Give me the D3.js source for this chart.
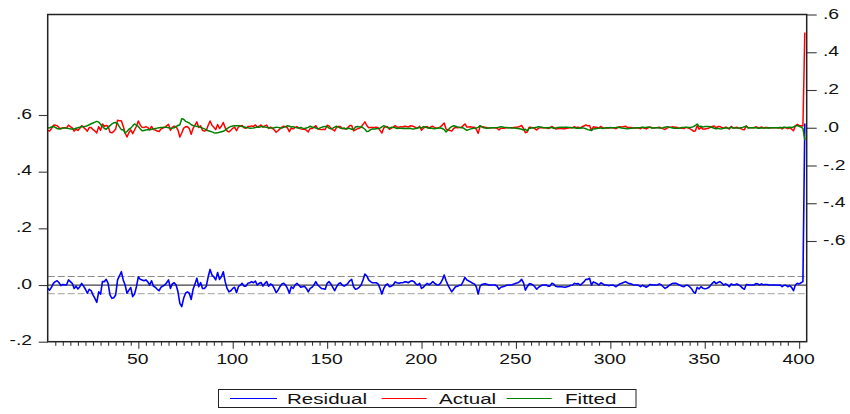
<!DOCTYPE html>
<html><head><meta charset="utf-8">
<script src="https://cdn.jsdelivr.net/npm/d3@7"></script>
<style>html,body{margin:0;padding:0;background:#fff;} svg{display:block;}</style>
</head><body><svg id="chart" width="850" height="414"></svg>
<script>
// ---- data (observations 2..403) ----
const firstObs = 2;
const residual = [
-.012,-.018,-.008,.006,.012,.015,.008,-.002,.002,.001,
.001,.018,.012,.006,-.012,-.004,-.014,-.006,.006,-.004,
-.015,-.029,-.015,-.020,-.035,-.047,-.061,-.024,-.032,.012,
.012,.020,.006,-.035,-.047,-.045,-.035,.018,.032,.047,
.018,0,-.029,-.018,-.009,-.041,-.032,-.006,.029,.020,
.018,.015,.018,.011,0,.015,-.004,-.008,-.015,-.020,
-.008,-.004,0,.008,.018,-.012,.004,.008,0,-.024,
-.065,-.076,-.047,-.029,-.024,-.029,-.051,-.015,.004,.024,
-.006,.009,-.012,-.012,-.004,.029,.055,.035,.029,.018,
.044,.020,.029,.047,.012,-.012,-.024,-.020,-.012,-.008,
-.027,-.006,0,.006,-.004,-.004,.006,.008,.012,.008,
.014,0,.006,.009,-.004,.006,.012,-.004,.004,0,
-.012,-.027,-.018,-.006,.004,.006,0,-.012,-.029,-.006,
-.012,0,.006,0,-.008,-.006,-.004,-.012,-.024,-.012,
-.008,0,.012,0,-.006,-.012,-.013,-.015,.006,.012,
.004,-.008,-.020,-.006,.004,.008,0,-.004,0,.006,
.015,.020,-.006,-.015,-.013,-.008,0,.018,.039,.032,
.018,.012,.008,.008,.008,.004,-.012,-.032,-.012,0,
.004,-.006,-.004,0,.011,.008,.006,.008,.008,.011,
.011,.008,.013,.015,.012,.004,0,.006,-.012,-.008,
0,.006,.001,.006,.012,.006,.001,0,.006,.018,
.035,.015,0,-.013,-.024,-.015,-.006,-.004,-.001,0,
.012,.027,.018,.014,.011,.006,.004,-.006,-.032,-.004,
.002,.004,.004,.002,0,0,0,0,-.004,-.015,
-.008,-.006,-.004,-.001,0,0,.001,.004,.006,.008,
.012,.020,.008,-.018,-.006,.004,.004,0,-.006,-.015,
-.008,-.004,0,0,0,-.004,-.004,.006,.004,-.004,
-.006,-.006,-.006,-.007,-.008,-.006,-.004,-.001,0,.006,
.004,.005,0,.005,.011,.020,.020,.024,0,.011,
.008,.005,0,.008,.004,0,0,-.002,-.001,0,
-.002,-.006,-.001,.004,.006,.009,.012,.008,.005,.004,
.001,0,0,-.001,-.006,-.001,-.004,-.008,-.004,.002,
.001,0,0,.001,.004,0,-.006,-.012,-.008,-.002,
.002,.006,.006,.006,.002,-.001,-.004,-.006,-.001,-.001,
-.006,-.013,-.024,-.029,-.008,-.014,-.006,-.011,-.013,-.012,
-.009,-.002,.006,.012,.005,.009,.012,.007,0,.004,
.001,-.006,.004,.001,.001,.004,0,-.004,-.011,-.015,
.002,.001,0,0,0,.005,.004,0,.004,.001,
.002,.002,0,0,0,0,0,-.001,0,-.006,
-.001,-.001,-.006,-.002,-.008,-.020,0,.006,.004,.008,
.012,.570
];
const fitted = [
-.002,0,.004,.007,.002,-.004,-.007,-.004,-.002,-.001,
-.002,-.004,-.006,-.007,-.006,-.003,0,.003,.005,.006,
.008,.011,.016,.021,.025,.030,.034,.030,.018,.008,
-.004,-.008,.002,.011,.020,.026,.028,.022,.005,-.010,
-.010,-.028,-.020,-.008,-.002,.010,.020,.014,.007,-.005,
-.016,-.014,-.012,-.010,-.011,-.008,-.006,-.004,-.002,0,
.001,.002,.002,.002,0,-.002,-.002,0,.006,.012,
.016,.048,.045,.034,.030,.025,.016,.012,.010,.007,
.007,.002,-.002,-.006,-.010,-.016,-.019,-.022,-.026,-.028,
-.027,-.024,-.021,-.019,-.012,-.005,.002,.007,.009,.011,
.011,.010,.009,.006,.004,.001,0,-.002,-.002,-.001,
.001,.004,.002,.006,.007,.004,.002,0,-.001,-.002,
0,.003,.002,0,-.001,.002,.006,.011,.008,.004,
.006,.002,0,-.002,.002,-.002,-.004,-.001,.002,.008,
.004,.002,-.001,-.006,-.002,.002,.005,.006,.007,-.002,
-.006,-.002,.003,.008,.003,-.002,-.004,-.001,-.007,-.004,
-.003,-.008,-.010,.004,.007,.005,.004,0,-.008,-.020,
-.018,-.010,-.007,-.006,-.005,-.004,-.002,.004,.011,.006,
.001,-.002,.002,.002,0,-.004,-.003,-.002,-.004,-.003,
-.004,-.004,-.003,-.006,-.006,-.004,-.001,.002,-.002,.006,
.004,0,-.003,-.001,-.004,-.006,-.003,-.001,-.001,-.004,
-.010,-.022,-.012,-.001,.006,.011,.008,.004,.002,.001,
-.001,-.007,-.014,-.010,-.006,-.004,-.002,-.001,.002,.011,
.004,0,-.002,-.002,-.001,0,0,0,.001,.003,
.006,.004,.002,.001,0,0,-.001,-.002,-.003,-.004,
-.005,-.008,-.012,-.008,-.017,-.002,-.002,0,.001,.003,
.006,.004,.001,0,0,0,.002,.001,-.003,-.002,
.001,.002,.002,.002,.003,.003,.002,.001,0,0,
-.003,-.002,-.002,0,-.002,-.005,-.010,-.012,-.014,-.006,
-.005,-.004,-.002,-.001,-.004,-.002,0,0,.001,0,
0,.001,.003,.001,-.002,-.003,-.004,-.006,-.004,-.003,
-.002,-.001,0,0,.001,.003,.001,.002,.004,.002,
-.001,-.001,0,0,-.001,-.002,0,.003,.006,.004,
.001,-.001,-.003,-.003,-.003,-.001,.001,.002,.003,.001,
.001,.003,.006,.012,.020,.006,.008,.004,.006,.007,
.006,.005,.001,-.003,-.006,-.003,-.005,-.006,-.003,0,
-.002,-.001,.003,-.002,-.001,-.001,-.002,0,.002,.005,
.008,-.001,0,0,0,0,-.002,-.002,0,-.002,
-.001,-.001,-.001,0,0,0,0,0,.001,0,
.003,.001,.001,.003,.001,.004,.010,.012,.008,.003,
-.003,-.065
];
// Actual = Fitted + Residual (definition of the residual series)
const actual = fitted.map((f, i) => +(f + residual[i]).toFixed(3));
const seBand = [-0.03, 0.03];

const xTickValues = [50, 100, 150, 200, 250, 300, 350, 400];
const xTickLabels = ["50", "100", "150", "200", "250", "300", "350", "400"];
const leftTickValues = [-0.2, 0, 0.2, 0.4, 0.6];
const leftTickLabels = ["-.2", ".0", ".2", ".4", ".6"];
const rightTickValues = [-0.6, -0.4, -0.2, 0, 0.2, 0.4, 0.6];
const rightTickLabels = ["-.6", "-.4", "-.2", ".0", ".2", ".4", ".6"];
const seriesNames = ["Residual", "Actual", "Fitted"];
const seriesColors = ["#0000ff", "#ff0000", "#008000"];

// ---- layout ----
const L = 47.7, R = 806.7, T = 14.5, B = 341.7;
const FONT = "'Liberation Sans', Arial, Helvetica, sans-serif";
const svg = d3.select("#chart");

const n = residual.length;
const obs = d3.range(n).map(i => firstObs + i);
const x = d3.scaleLinear().domain([firstObs, firstObs + n]).range([L, R]);
const yL = d3.scaleLinear().domain([-0.2, 0.6]).range([B, 115]);
const yR = d3.scaleLinear().domain([-0.6, 0.6]).range([241, T]);

svg.append("defs").append("clipPath").attr("id", "clip")
  .append("rect").attr("x", L).attr("y", T).attr("width", R - L).attr("height", B - T);

const plot = svg.append("g").attr("clip-path", "url(#clip)");

// zero line and S.E. band (left scale)
plot.append("line").attr("x1", L).attr("x2", R).attr("y1", yL(0)).attr("y2", yL(0))
  .attr("stroke", "#404040").attr("stroke-width", 1.3);
plot.append("line").attr("x1", L).attr("x2", R).attr("y1", yL(seBand[1])).attr("y2", yL(seBand[1]))
  .attr("stroke", "#8a8a8a").attr("stroke-width", 1.2).attr("stroke-dasharray", "7,3");
plot.append("line").attr("x1", L).attr("x2", R).attr("y1", yL(seBand[0])).attr("y2", yL(seBand[0]))
  .attr("stroke", "#b4b4b4").attr("stroke-width", 1.2).attr("stroke-dasharray", "7,3");

const lineL = d3.line().x((d, i) => x(obs[i])).y(d => yL(d));
const lineR = d3.line().x((d, i) => x(obs[i])).y(d => yR(d));

plot.append("path").datum(residual).attr("d", lineL).attr("fill", "none")
  .attr("stroke", seriesColors[0]).attr("stroke-width", 1.6).attr("stroke-linejoin", "round");
plot.append("path").datum(actual).attr("d", lineR).attr("fill", "none")
  .attr("stroke", seriesColors[1]).attr("stroke-width", 1.5).attr("stroke-linejoin", "round");
plot.append("path").datum(fitted).attr("d", lineR).attr("fill", "none")
  .attr("stroke", seriesColors[2]).attr("stroke-width", 1.5).attr("stroke-linejoin", "round");

// axes (tick marks)
const gL = svg.append("g").attr("transform", `translate(${L},0)`)
  .call(d3.axisLeft(yL).tickValues(leftTickValues).tickSize(9).tickFormat(""));
const gR = svg.append("g").attr("transform", `translate(${R},0)`)
  .call(d3.axisRight(yR).tickValues(rightTickValues).tickSize(10).tickFormat(""));
const gB = svg.append("g").attr("transform", `translate(0,${B})`)
  .call(d3.axisBottom(x).tickValues(xTickValues).tickSize(7).tickFormat(""));
const minorTicks = d3.range(6, 404, 4).filter(v => {
  const r = v % 50; return r > 2 && r < 48;
});
const gBm = svg.append("g").attr("transform", `translate(0,${B})`)
  .call(d3.axisBottom(x).tickValues(minorTicks).tickSize(4).tickFormat(""));
[gL, gR, gB, gBm].forEach(g => {
  g.select(".domain").remove();
  g.selectAll(".tick line").attr("stroke", "#3a3a3a").attr("stroke-width", 1.1);
});

// tick labels (horizontally stretched like the original)
const SX = 1.38;
svg.append("g").selectAll("text").data(leftTickValues).join("text")
  .attr("transform", d => `translate(32,${yL(d) + 3.6}) scale(${SX},1)`)
  .attr("text-anchor", "end").attr("font-family", FONT).attr("font-size", 14)
  .attr("fill", "#111").text((d, i) => leftTickLabels[i]);
svg.append("g").selectAll("text").data(rightTickValues).join("text")
  .attr("transform", d => `translate(823,${yR(d) + 4}) scale(${SX},1)`)
  .attr("text-anchor", "start").attr("font-family", FONT).attr("font-size", 14)
  .attr("fill", "#111").text((d, i) => rightTickLabels[i]);
svg.append("g").selectAll("text").data(xTickValues).join("text")
  .attr("transform", d => `translate(${x(d) - 0.5},364) scale(${SX},1)`)
  .attr("text-anchor", "middle").attr("font-family", FONT).attr("font-size", 14)
  .attr("fill", "#111").text((d, i) => xTickLabels[i]);

// frame
svg.append("rect").attr("x", L).attr("y", T).attr("width", R - L).attr("height", B - T)
  .attr("fill", "none").attr("stroke", "#222").attr("stroke-width", 1.5);

// legend
const leg = svg.append("g");
leg.append("rect").attr("x", 218.5).attr("y", 389.5).attr("width", 417.5).attr("height", 18)
  .attr("fill", "#fff").attr("stroke", "#222").attr("stroke-width", 1);
const legX = [[230, 277, 287], [381.7, 426.7, 439], [506.7, 551.7, 565]];
seriesNames.forEach((name, i) => {
  leg.append("line").attr("x1", legX[i][0]).attr("x2", legX[i][1])
    .attr("y1", 398.5).attr("y2", 398.5).attr("stroke", seriesColors[i]).attr("stroke-width", 1);
  leg.append("text").attr("transform", `translate(${legX[i][2]},404) scale(1.42,1)`)
    .attr("font-family", FONT).attr("font-size", 14.5).attr("fill", "#111").text(name);
});
</script>
</body></html>
